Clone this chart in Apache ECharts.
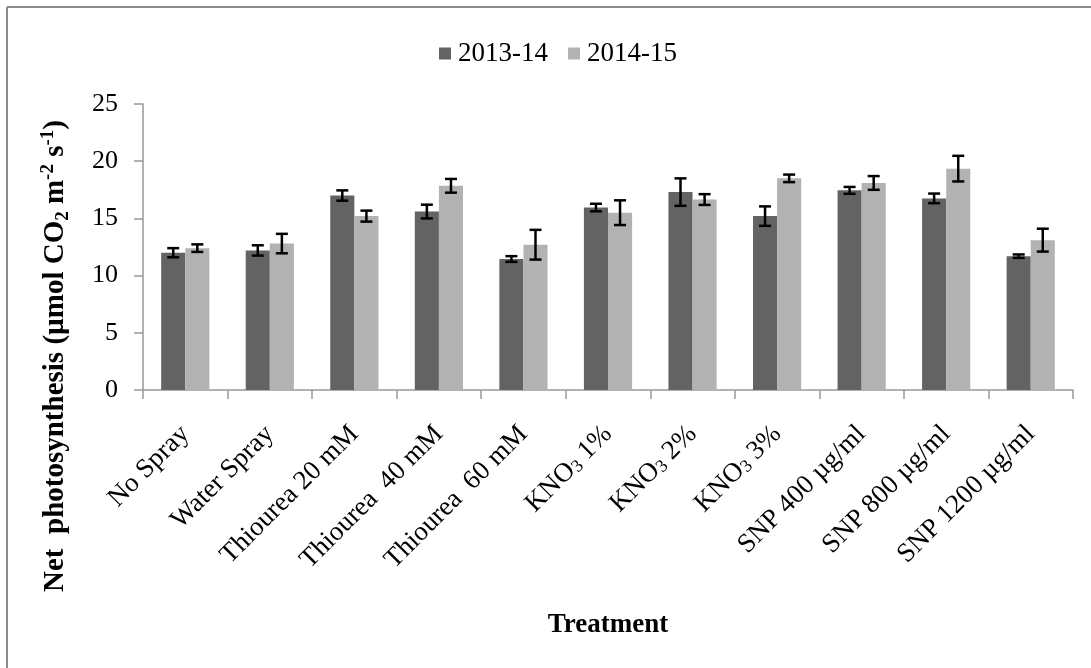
<!DOCTYPE html>
<html>
<head>
<meta charset="utf-8">
<script src="https://cdn.jsdelivr.net/npm/echarts@6/dist/echarts.min.js"></script>
<style>
  html, body { margin: 0; padding: 0; background: #fff; }
  #chart { width: 1091px; height: 668px; }
</style>
</head>
<body>
<div id="chart"></div>
<script>
// Net photosynthesis by foliar spray treatment, two seasons
const categories = [
  'No Spray', 'Water Spray', 'Thiourea 20 mM', 'Thiourea  40 mM', 'Thiourea  60 mM',
  'KNO3 1%', 'KNO3 2%', 'KNO3 3%', 'SNP 400 µg/ml', 'SNP 800 µg/ml', 'SNP 1200 µg/ml'
];
const seasons = ['2013-14', '2014-15'];
const values2013 = [12.0, 12.2, 17.0, 15.6, 11.45, 15.95, 17.3, 15.2, 17.45, 16.75, 11.7];
const err2013    = [0.4, 0.45, 0.45, 0.6, 0.25, 0.33, 1.2, 0.85, 0.3, 0.42, 0.15];
const values2014 = [12.4, 12.8, 15.2, 17.85, 12.7, 15.5, 16.65, 18.5, 18.1, 19.35, 13.1];
const err2014    = [0.33, 0.85, 0.48, 0.6, 1.3, 1.08, 0.47, 0.33, 0.6, 1.12, 1.0];
const yTicks = { min: 0, max: 25, interval: 5 };

const SERIF = '"Liberation Serif", "Times New Roman", serif';
const CAT_GAP = 0.43;
const colors = ['#636363', '#b2b2b2'];

// Error bar drawn at the centre of the matching bar in its group
function errorBars(side) {
  return function (params, api) {
    const idx = api.value(0);
    const v = api.value(1);
    const e = api.value(2);
    const catW = api.size([1, 0])[0];
    const barW = catW * (1 - CAT_GAP) / 2;
    const hi = api.coord([idx, v + e]);
    const lo = api.coord([idx, v - e]);
    const x = hi[0] + side * barW / 2;
    const cap = 6;
    const st = { stroke: '#000', lineWidth: 2.5 };
    return {
      type: 'group',
      children: [
        { type: 'line', shape: { x1: x, y1: hi[1], x2: x, y2: lo[1] }, style: st },
        { type: 'line', shape: { x1: x - cap, y1: hi[1], x2: x + cap, y2: hi[1] }, style: st },
        { type: 'line', shape: { x1: x - cap, y1: lo[1], x2: x + cap, y2: lo[1] }, style: st }
      ]
    };
  };
}

const chart = echarts.init(document.getElementById('chart'), null, { renderer: 'canvas' });

chart.setOption({
  backgroundColor: '#fff',
  animation: false,
  textStyle: { fontFamily: SERIF, color: '#000' },
  legend: {
    data: seasons,
    left: 434,
    top: 35,
    itemWidth: 12,
    itemHeight: 12,
    itemGap: 20,
    icon: 'rect',
    textStyle: { fontFamily: SERIF, fontSize: 27, color: '#000', padding: [0, 0, 0, 2] }
  },
  grid: { left: 143, right: 18, top: 104, bottom: 278, containLabel: false },
  xAxis: {
    type: 'category',
    data: categories,
    axisLine: { lineStyle: { color: '#999', width: 1.5 } },
    axisTick: { show: true, length: 9, lineStyle: { color: '#999', width: 1.5 } },
    axisLabel: {
      rotate: 45,
      interval: 0,
      margin: 40,
      fontFamily: SERIF,
      fontSize: 27,
      color: '#000',
      formatter: v => v.replace('KNO3', 'KNO{s|3}'),
      rich: {
        s: { fontFamily: SERIF, fontSize: 18, color: '#000', verticalAlign: 'bottom', lineHeight: 18 }
      }
    },
    name: 'Treatment',
    nameLocation: 'middle',
    nameGap: 222,
    nameTextStyle: { fontFamily: SERIF, fontSize: 27, fontWeight: 'bold', color: '#000' }
  },
  yAxis: {
    type: 'value',
    min: yTicks.min,
    max: yTicks.max,
    interval: yTicks.interval,
    splitLine: { show: false },
    axisLine: { show: true, lineStyle: { color: '#999', width: 1.5 } },
    axisTick: { show: true, length: 9, lineStyle: { color: '#999', width: 1.5 } },
    axisLabel: { fontFamily: SERIF, fontSize: 26, color: '#000', margin: 25 }
  },
  graphic: [
    { type: 'line', shape: { x1: 7, y1: 7, x2: 1091, y2: 7 }, style: { stroke: '#8c8c8c', lineWidth: 2 } },
    { type: 'line', shape: { x1: 7, y1: 7, x2: 7, y2: 668 }, style: { stroke: '#8c8c8c', lineWidth: 2 } },
    {
      type: 'text',
      x: 56,
      y: 356,
      rotation: Math.PI / 2,
      style: {
        text: '{b|Net  photosynthesis (µmol CO}{sub|2}{b| m}{sup|-2}{b| s}{sup|-1}{b|)}',
        align: 'center',
        verticalAlign: 'middle',
        rich: {
          b: { fontFamily: SERIF, fontSize: 29, fontWeight: 'bold', fill: '#000', lineHeight: 34 },
          sub: { fontFamily: SERIF, fontSize: 19, fontWeight: 'bold', fill: '#000', lineHeight: 21, verticalAlign: 'bottom' },
          sup: { fontFamily: SERIF, fontSize: 19, fontWeight: 'bold', fill: '#000', lineHeight: 21, verticalAlign: 'top' }
        }
      }
    }
  ],
  series: [
    {
      name: seasons[0], type: 'bar', data: values2013,
      barGap: '0%', barCategoryGap: (CAT_GAP * 100) + '%',
      itemStyle: { color: colors[0] }
    },
    {
      name: seasons[1], type: 'bar', data: values2014,
      barGap: '0%', barCategoryGap: (CAT_GAP * 100) + '%',
      itemStyle: { color: colors[1] }
    },
    {
      type: 'custom', renderItem: errorBars(-1), z: 10,
      data: values2013.map((v, i) => [i, v, err2013[i]])
    },
    {
      type: 'custom', renderItem: errorBars(1), z: 10,
      data: values2014.map((v, i) => [i, v, err2014[i]])
    }
  ]
});
</script>
</body>
</html>
